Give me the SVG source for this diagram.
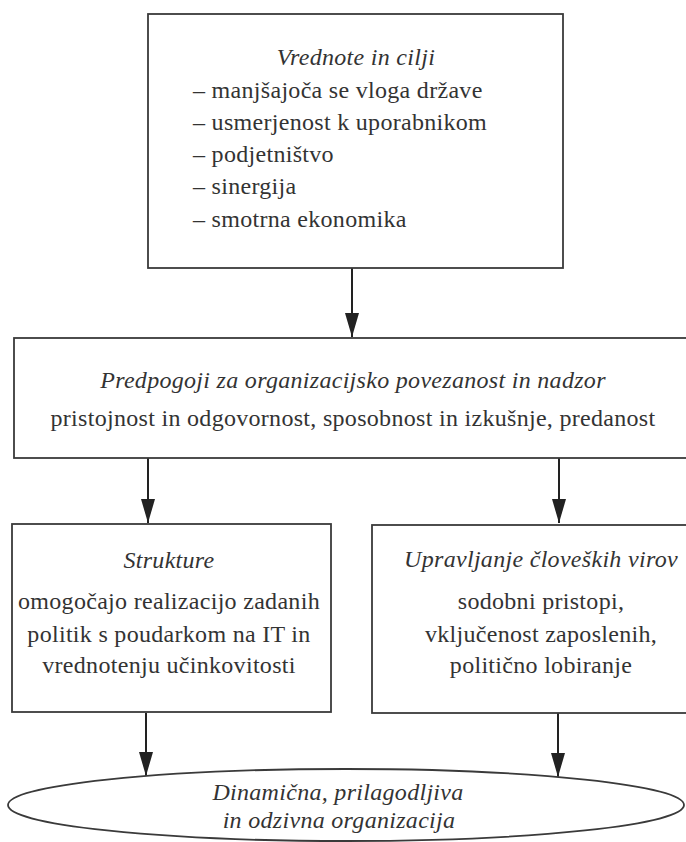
<svg xmlns="http://www.w3.org/2000/svg" width="686" height="842" viewBox="0 0 686 842">
<defs>
<style>
.box{fill:#fff;stroke:#3a3a3a;stroke-width:1.8}
.t{font-family:'Liberation Serif','DejaVu Serif',serif;font-size:24px;letter-spacing:0.3px;fill:#333}
.i{font-style:italic}
.c{text-anchor:middle}
.conn{stroke:#222;stroke-width:2;fill:none}
</style>
<marker id="arr" markerUnits="userSpaceOnUse" markerWidth="26" markerHeight="16" refX="24" refY="7" orient="auto" viewBox="0 0 26 14">
<path d="M0,0 L24,7 L0,14 Z" fill="#222"/>
</marker>
</defs>
<rect width="686" height="842" fill="#fff"/>
<g id="connectors">
<line class="conn" x1="352" y1="268" x2="352" y2="337" marker-end="url(#arr)"/>
<line class="conn" x1="148" y1="458" x2="148" y2="523" marker-end="url(#arr)"/>
<line class="conn" x1="559" y1="458" x2="559" y2="523" marker-end="url(#arr)"/>
<line class="conn" x1="146" y1="713" x2="146" y2="776" marker-end="url(#arr)"/>
<line class="conn" x1="558" y1="713" x2="558" y2="777" marker-end="url(#arr)"/>
</g>
<g id="values">
<rect class="box" x="148" y="14" width="415" height="254"/>
<text class="t i c" x="356" y="65">Vrednote in cilji</text>
<text class="t" x="193" y="98">– manjšajoča se vloga države</text>
<text class="t" x="193" y="130">– usmerjenost k uporabnikom</text>
<text class="t" x="193" y="162">– podjetništvo</text>
<text class="t" x="193" y="194">– sinergija</text>
<text class="t" x="193" y="227">– smotrna ekonomika</text>
</g>
<g id="prerequisites">
<rect class="box" x="14" y="338" width="680" height="120"/>
<text class="t i c" x="353" y="388">Predpogoji za organizacijsko povezanost in nadzor</text>
<text class="t c" x="353" y="426">pristojnost in odgovornost, sposobnost in izkušnje, predanost</text>
</g>
<g id="structures">
<rect class="box" x="12" y="524" width="319" height="188"/>
<text class="t i c" x="169" y="568">Strukture</text>
<text class="t c" x="169" y="609">omogočajo realizacijo zadanih</text>
<text class="t c" x="169" y="642">politik s poudarkom na IT in</text>
<text class="t c" x="169" y="673">vrednotenju učinkovitosti</text>
</g>
<g id="hrm">
<rect class="box" x="372" y="525" width="330" height="188"/>
<text class="t i c" x="541" y="567">Upravljanje človeških virov</text>
<text class="t c" x="541" y="609">sodobni pristopi,</text>
<text class="t c" x="541" y="642">vključenost zaposlenih,</text>
<text class="t c" x="541" y="673">politično lobiranje</text>
</g>
<g id="organization">
<ellipse class="box" cx="346" cy="805" rx="338" ry="36"/>
<text class="t i c" x="338" y="800">Dinamična, prilagodljiva</text>
<text class="t i c" x="339" y="828">in odzivna organizacija</text>
</g>
</svg>
